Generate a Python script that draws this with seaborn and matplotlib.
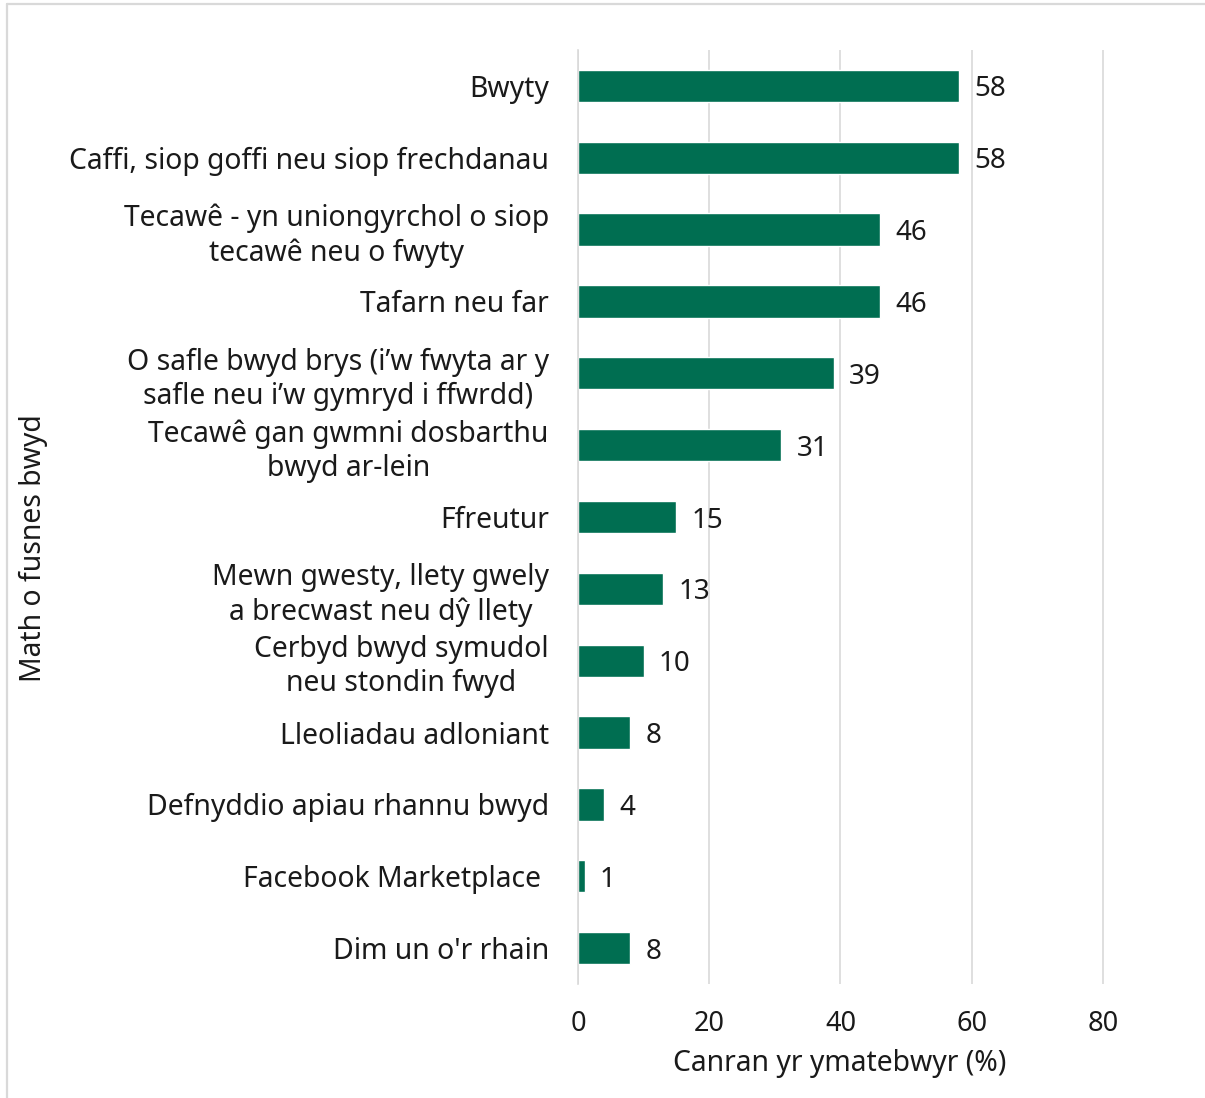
import matplotlib
matplotlib.use("Agg")
import matplotlib.pyplot as plt
import seaborn as sns
import pandas as pd
from matplotlib.lines import Line2D

categories = [
    "Bwyty",
    "Caffi, siop goffi neu siop frechdanau",
    "Tecawê - yn uniongyrchol o siop\ntecawê neu o fwyty",
    "Tafarn neu far",
    "O safle bwyd brys (i’w fwyta ar y\nsafle neu i’w gymryd i ffwrdd)",
    "Tecawê gan gwmni dosbarthu\nbwyd ar-lein",
    "Ffreutur",
    "Mewn gwesty, llety gwely\na brecwast neu dŷ llety",
    "Cerbyd bwyd symudol\nneu stondin fwyd",
    "Lleoliadau adloniant",
    "Defnyddio apiau rhannu bwyd",
    "Facebook Marketplace ",
    "Dim un o'r rhain",
]
values = [58, 58, 46, 46, 39, 31, 15, 13, 10, 8, 4, 1, 8]
xticks = [0, 20, 40, 60, 80]
xlabel = "Canran yr ymatebwyr (%)"
ylabel = "Math o fusnes bwyd"

sns.set_theme(style="white")
plt.rcParams["font.family"] = ["Noto Sans", "DejaVu Sans"]

df = pd.DataFrame({"cat": categories, "val": values})

W, H = 1205, 1098
fig = plt.figure(figsize=(W / 100, H / 100), dpi=100)
ax = fig.add_axes([578 / W, 1 - 984 / H, (1168.6 - 578) / W, (984 - 50) / H])

sns.barplot(data=df, x="val", y="cat", orient="h", color="#006E51",
            width=0.45, saturation=1, ax=ax)

ax.set_xlim(0, 90)
ax.set_ylim(12.5, -0.5)
ax.set_xticks(xticks)
ax.set_xticklabels([str(t) for t in xticks], fontsize=19.5, color="#1a1a1a")
ax.tick_params(axis="x", length=0, pad=19)
ax.tick_params(axis="y", which="major", length=0, pad=21, labelsize=20.4, labelcolor="#1a1a1a")
for lab in ax.get_yticklabels():
    lab.set_multialignment("center")
    lab.set_linespacing(1.22)

ax.set_yticks([i - 0.5 for i in range(len(categories) + 1)], minor=True)
ax.tick_params(axis="y", which="minor", length=8, color="#d9d9d9", width=1.2)

ax.grid(axis="x", color="#d9d9d9", linewidth=1.2)
ax.set_axisbelow(True)
for s in ["top", "right", "bottom"]:
    ax.spines[s].set_visible(False)
ax.spines["left"].set_color("#d9d9d9")
ax.spines["left"].set_linewidth(1.2)

texts = ax.bar_label(ax.containers[0], labels=[str(v) for v in values], padding=11,
                     fontsize=20, color="#1a1a1a")
for t in texts:
    t.set_va("center_baseline")

ax.set_xlabel(xlabel, fontsize=20.4, color="#1a1a1a")
ax.xaxis.set_label_coords((840 - 578) / (1168.6 - 578), -(1063 - 984) / (984 - 50))
ax.xaxis.label.set_va("center")
ax.set_ylabel("")
fig.text(33 / W, 1 - 548 / H, ylabel, rotation=90, ha="center", va="center",
         fontsize=20.4, color="#1a1a1a")

fig.add_artist(Line2D([7 / W, 7 / W], [0, 1 - 4 / H], color="#d9d9d9", linewidth=1.6))
fig.add_artist(Line2D([7 / W, 1], [1 - 4 / H, 1 - 4 / H], color="#d9d9d9", linewidth=1.6))

fig.savefig("out.png", dpi=100, facecolor="white")
